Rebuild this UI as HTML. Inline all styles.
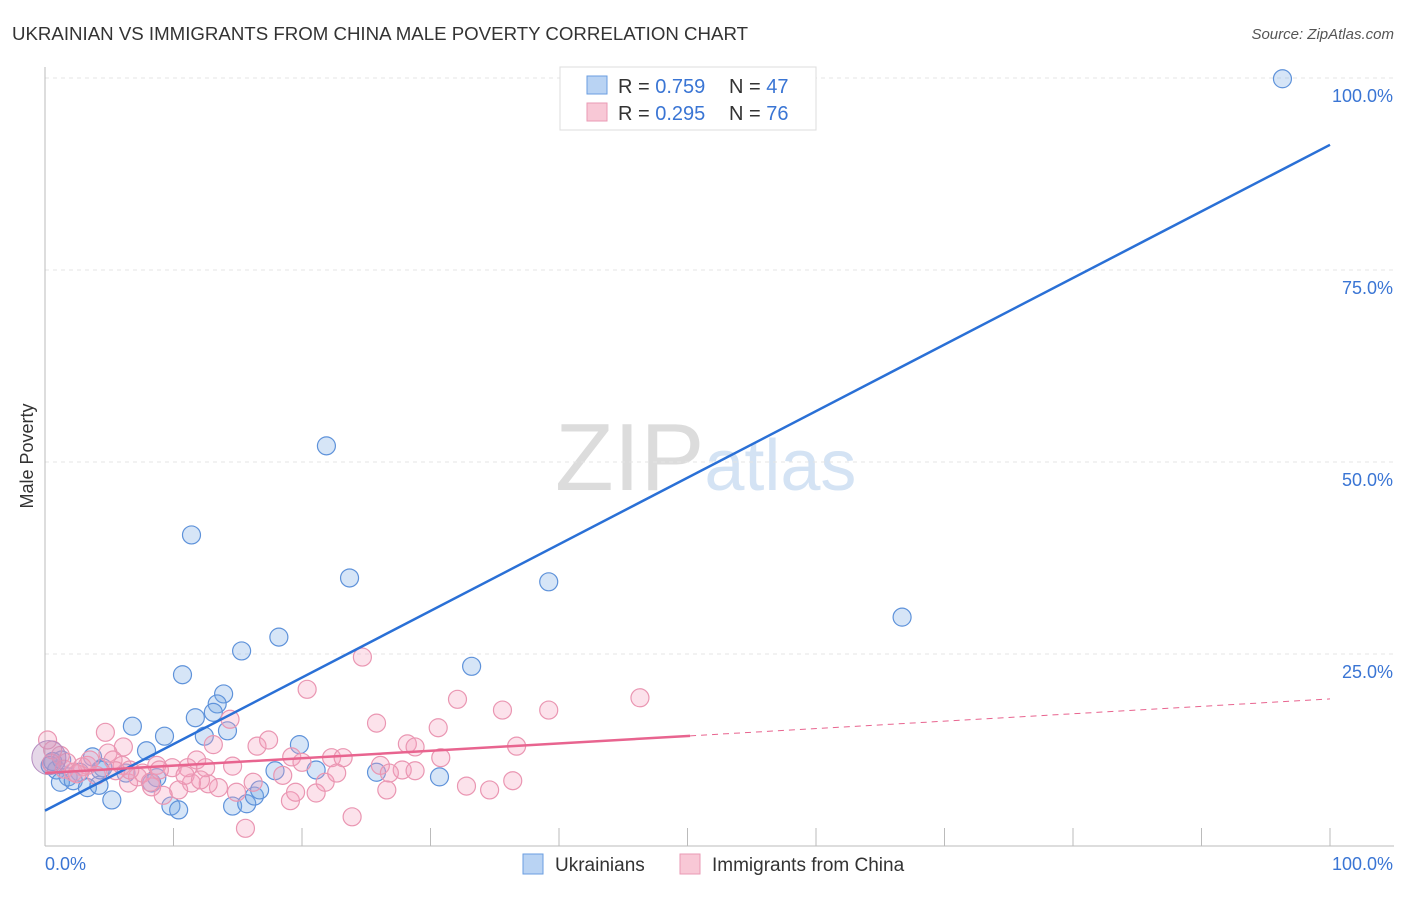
<!DOCTYPE html>
<html><head><meta charset="utf-8"><style>
body{margin:0;background:#fff;font-family:"Liberation Sans",sans-serif;}
svg text{font-family:"Liberation Sans",sans-serif;}
</style></head><body>
<svg id="chart" width="1406" height="892" xmlns="http://www.w3.org/2000/svg">
<text x="12" y="40" font-size="18" fill="#333" textLength="736" lengthAdjust="spacingAndGlyphs">UKRAINIAN VS IMMIGRANTS FROM CHINA MALE POVERTY CORRELATION CHART</text>
<text x="1394" y="39" font-size="15" fill="#555" text-anchor="end" font-style="italic">Source: ZipAtlas.com</text>
<text x="33" y="456" font-size="18" fill="#333" text-anchor="middle" transform="rotate(-90 33 456)">Male Poverty</text>
<text x="555" y="490" font-size="96" fill="#ddd" font-family="Liberation Serif"><tspan fill="#dcdcdc">ZIP</tspan><tspan fill="#d4e3f4" font-family="Liberation Sans" font-size="72">atlas</tspan></text>
<g id="grid"></g><g id="axes"></g><g id="pts"></g><g id="lines"></g>
<g>
<rect x="560" y="67" width="256" height="63" fill="#fff" stroke="#ddd"/>
<rect x="587" y="76" width="20" height="18" fill="#b9d3f3" stroke="#6a9ee0"/>
<rect x="587" y="103" width="20" height="18" fill="#f8c8d6" stroke="#ea9ab4"/>
<text x="618" y="93" font-size="20" fill="#333">R = <tspan fill="#3a75d4">0.759</tspan></text>
<text x="729" y="93" font-size="20" fill="#333">N = <tspan fill="#3a75d4">47</tspan></text>
<text x="618" y="120" font-size="20" fill="#333">R = <tspan fill="#3a75d4">0.295</tspan></text>
<text x="729" y="120" font-size="20" fill="#333">N = <tspan fill="#3a75d4">76</tspan></text>
</g>
<g>
<rect x="523" y="854" width="20" height="20" fill="#b9d3f3" stroke="#6a9ee0"/>
<text x="555" y="871" font-size="19" fill="#333">Ukrainians</text>
<rect x="680" y="854" width="20" height="20" fill="#f8c8d6" stroke="#ea9ab4"/>
<text x="712" y="871" font-size="19" fill="#333">Immigrants from China</text>
</g>
</svg>
<script>
const xTicks=[0,10,20,30,40,50,60,70,80,90,100];
const yTicks=[25,50,75,100];
const yTickLabels=["25.0%","50.0%","75.0%","100.0%"];
const blueX=[96.3,21.9,11.4,23.7,39.2,66.7,18.2,15.3,33.2,10.7,13.9,13.4,11.7,13.1,6.8,9.3,12.4,14.2,3.7,7.9,19.8,0.9,1.8,2.7,4.5,6.3,8.7,8.3,1.2,2.2,3.3,4.2,5.2,9.8,10.4,14.6,15.7,16.3,16.7,17.9,21.1,25.8,30.7,0.4,1.3,4.3,0.6];
const blueY=[99.9,52.1,40.5,34.9,34.4,29.8,27.2,25.4,23.4,22.3,19.8,18.5,16.7,17.4,15.6,14.3,14.3,15.0,11.6,12.4,13.2,9.9,9.0,9.6,10.2,9.5,8.9,8.2,8.3,8.5,7.6,7.9,6.0,5.2,4.7,5.2,5.5,6.5,7.3,9.8,9.9,9.6,9.0,10.5,11.2,9.9,11.0];
const pinkX=[24.7,20.4,32.1,35.6,25.8,30.6,36.7,28.2,28.8,30.8,4.7,14.4,13.1,16.5,17.4,6.1,4.9,19.2,20.0,22.3,23.2,26.1,27.8,28.8,26.8,26.6,32.8,34.6,36.4,23.9,15.6,19.1,19.5,21.1,21.8,22.7,18.5,16.2,14.9,13.5,12.7,11.4,10.4,9.2,8.3,6.5,7.2,14.6,11.8,12.5,11.1,9.9,5.3,3.3,1.7,2.2,4.0,1.2,0.6,2.9,6.0,8.7,7.6,8.2,46.3,39.2,0.2,3.5,6.6,8.9,10.9,12.1,0.5,1.5,2.5,5.5];
const pinkY=[24.6,20.4,19.1,17.7,16.0,15.4,13.0,13.3,12.9,11.5,14.8,16.5,13.2,13.0,13.8,12.9,12.1,11.6,10.9,11.5,11.5,10.5,9.9,9.8,9.5,7.3,7.8,7.3,8.5,3.8,2.3,5.9,7.0,6.9,8.3,9.5,9.2,8.3,7.0,7.6,8.1,8.2,7.3,6.6,7.7,8.2,9.0,10.4,11.2,10.2,10.2,10.2,11.2,10.5,10.9,9.6,9.2,11.8,12.5,10.3,10.5,10.5,9.5,8.3,19.3,17.7,13.8,11.2,9.9,9.9,9.2,8.6,10.8,10.0,9.4,9.8];
const blueTrend=[4.6,0.867];
const pinkTrend=[9.5,0.0965];
const pinkSolidEnd=50.2;
const NS="http://www.w3.org/2000/svg";
const X=v=>45+v*12.85, Y=v=>846-v*7.68;
function mk(tag,attrs,parent){const e=document.createElementNS(NS,tag);for(const k in attrs)e.setAttribute(k,attrs[k]);parent.appendChild(e);return e;}
const grid=document.getElementById('grid'),axes=document.getElementById('axes'),pts=document.getElementById('pts'),lines=document.getElementById('lines');
yTicks.forEach((t,i)=>{
 const l=mk('line',{x1:45,x2:1394,y1:Y(t),y2:Y(t),stroke:'#e4e4e4','stroke-dasharray':'4,4'},grid);
 
 
 const tx=mk('text',{x:1393,y:Y(t)+24,'font-size':18,fill:'#3a75d4','text-anchor':'end'},grid);
 tx.textContent=yTickLabels[i];
 
 
});
let a=mk('line',{x1:45,x2:45,y1:67,y2:846,stroke:'#bbb'},axes);


a=mk('line',{x1:45,x2:1394,y1:846,y2:846,stroke:'#bbb'},axes);


xTicks.forEach(t=>{if(t===0)return;const l=mk('line',{x1:X(t),x2:X(t),y1:828,y2:846,stroke:'#bbb'},axes);
 
 });
let t0=mk('text',{x:45,y:870,'font-size':18,fill:'#3a75d4'},axes);t0.textContent='0.0%';


let t1=mk('text',{x:1393,y:870,'font-size':18,fill:'#3a75d4','text-anchor':'end'},axes);t1.textContent='100.0%';


blueX.forEach((x,i)=>{const c=mk('circle',{cx:X(x),cy:Y(blueY[i]),r:9,fill:'rgba(120,170,230,0.3)',stroke:'#5e92da','stroke-width':1.2},pts);
 
 });
pinkX.forEach((x,i)=>{const c=mk('circle',{cx:X(x),cy:Y(pinkY[i]),r:9,fill:'rgba(245,160,190,0.3)',stroke:'#ea96b2','stroke-width':1.2},pts);
 
 });
let big=mk('circle',{cx:X(0.3),cy:Y(11.5),r:17,fill:'rgba(180,140,190,0.35)',stroke:'#b48cc0'},pts);


let bl=mk('line',{x1:X(0),y1:Y(blueTrend[0]),x2:X(100),y2:Y(blueTrend[0]+blueTrend[1]*100),stroke:'#2a70d6','stroke-width':2.5},lines);


let pl=mk('line',{x1:X(0),y1:Y(pinkTrend[0]),x2:X(pinkSolidEnd),y2:Y(pinkTrend[0]+pinkTrend[1]*pinkSolidEnd),stroke:'#e8648f','stroke-width':2.5},lines);


let pd=mk('line',{x1:X(pinkSolidEnd),y1:Y(pinkTrend[0]+pinkTrend[1]*pinkSolidEnd),x2:X(100),y2:Y(pinkTrend[0]+pinkTrend[1]*100),stroke:'#e8648f','stroke-width':1,'stroke-dasharray':'6,5'},lines);


</script>
</body></html>
